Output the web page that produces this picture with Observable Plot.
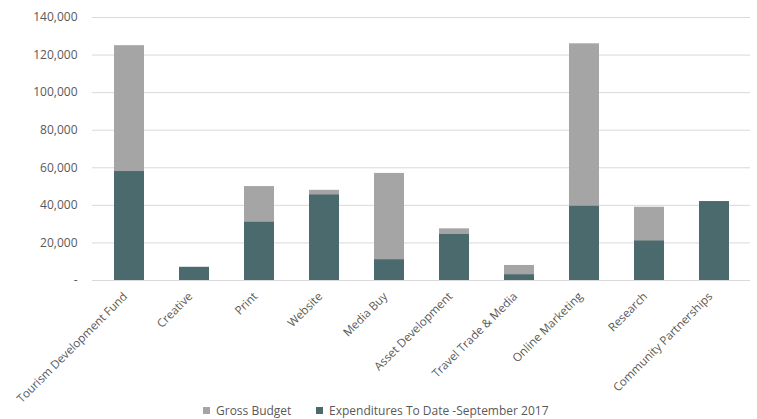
<!DOCTYPE html>
<html>
<head>
<meta charset="utf-8">
<script src="https://cdn.jsdelivr.net/npm/d3@7"></script>
<script src="https://cdn.jsdelivr.net/npm/@observablehq/plot@0.6"></script>
<style>
  body { margin: 0; background: #fff; font-family: "Open Sans", sans-serif; }
  #chart { width: 757px; position: relative; }
  #chart svg { display: block; }
  .legend { position: absolute; left: 0; top: 402px; width: 757px; height: 17px; font-size: 12px; color: #595959; }
  .legend span.item { position: absolute; top: 0; white-space: nowrap; }
  .legend i { display: inline-block; width: 7px; height: 7px; margin-right: 6px; vertical-align: 1px; }
</style>
</head>
<body>
<div id="chart"></div>
<script>
const categories = ["Tourism Development Fund", "Creative", "Print", "Website", "Media Buy", "Asset Development", "Travel Trade & Media", "Online Marketing", "Research", "Community Partnerships"];
const grossBudget = [125000, 7000, 50000, 48000, 57000, 27500, 8000, 126000, 39000, 42000];
const expenditures = [58000, 7000, 31000, 45500, 11000, 24500, 3000, 39500, 21000, 42000];
const yTicks = [0, 20000, 40000, 60000, 80000, 100000, 120000, 140000];

const rows = categories.map((c, i) => ({ category: c, gross: grossBudget[i], spent: expenditures[i] }));
const fmt = d3.format(",");

const plot = Plot.plot({
  width: 757,
  height: 419,
  marginTop: 17,
  marginLeft: 92,
  marginRight: 7,
  marginBottom: 139,
  style: { fontFamily: "Open Sans, sans-serif", fontSize: "12px", color: "#595959", background: "#fff" },
  x: { domain: categories, paddingInner: 0.544, paddingOuter: 0.272, align: 0.5, label: null },
  y: { domain: [0, 140000], ticks: yTicks, label: null },
  marks: [
    Plot.ruleY(yTicks, { stroke: "#d9d9d9", strokeWidth: 1 }),
    Plot.barY(rows, { x: "category", y: "gross", fill: "#a5a5a5", inset: 0 }),
    Plot.barY(rows, { x: "category", y: "spent", fill: "#4a6a6e", inset: 0 }),
    Plot.axisY({ ticks: yTicks, tickSize: 0, tickPadding: 15, tickFormat: d => d === 0 ? "-" : fmt(d), label: null, fill: "#595959" }),
    Plot.axisX({ tickSize: 0, tickPadding: 8, tickRotate: -45, label: null, fill: "#595959", fontSize: 11.6, dx: -4, dy: 6 })
  ]
});
document.getElementById("chart").appendChild(plot);

const legendItems = [
  { label: "Gross Budget", color: "#a5a5a5", left: 203 },
  { label: "Expenditures To Date -September 2017", color: "#4a6a6e", left: 316 }
];
const legend = document.createElement("div");
legend.className = "legend";
for (const it of legendItems) {
  const s = document.createElement("span");
  s.className = "item";
  s.style.left = it.left + "px";
  const sw = document.createElement("i");
  sw.style.background = it.color;
  s.appendChild(sw);
  s.appendChild(document.createTextNode(it.label));
  legend.appendChild(s);
}
document.getElementById("chart").appendChild(legend);
</script>
</body>
</html>
